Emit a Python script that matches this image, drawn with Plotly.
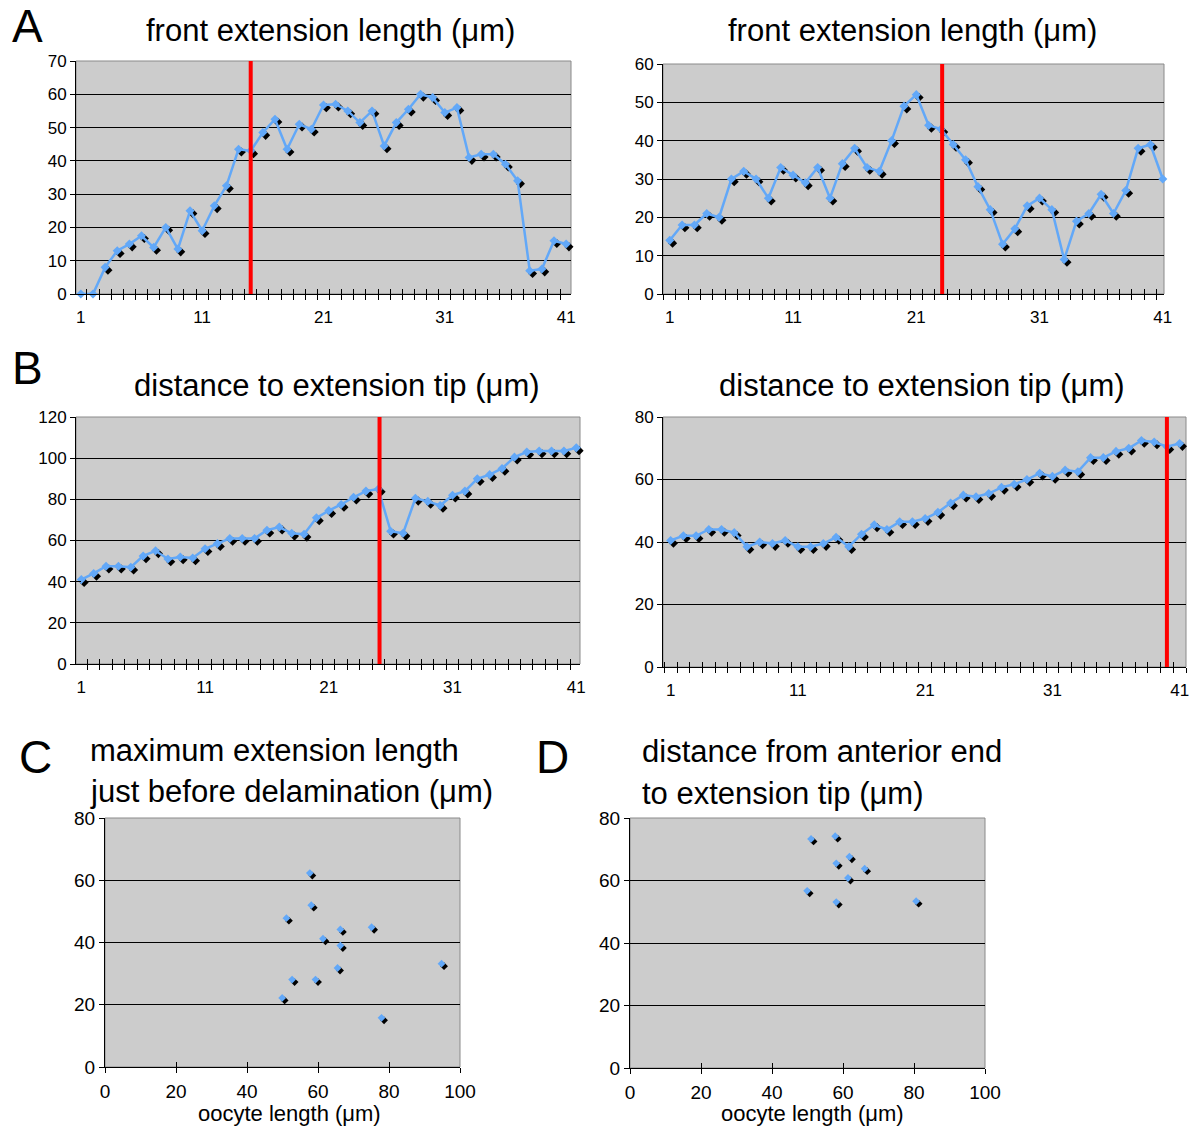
import plotly.graph_objects as go

W, H = 1189, 1127

# ---------------- data ----------------
frames = list(range(1, 42))
front_ext_1 = [0, 0, 8, 13, 15, 17.5, 14, 20, 13.5, 25, 19, 26.5, 32.5, 43.5, 43, 48.5, 52.5, 43.5, 51, 49.5,
               56.8, 57, 55, 51.5, 55, 44.5, 51.5, 55.5, 60, 59, 54.5, 56, 41, 42, 42, 39, 34, 7, 7.5, 16, 15]
front_ext_2 = [14, 18, 18, 21, 20, 30, 32, 30, 25, 33, 31, 29, 33, 25, 34, 38, 33, 32, 40, 49,
               52, 44, 43, 39, 35, 28, 22, 13, 17, 23, 25, 22, 9, 19, 21, 26, 21, 27, 38, 39, 30]
dist_tip_1 = [41, 44, 47.5, 47.5, 47, 52.5, 55, 51, 52, 51.5, 56, 58.5, 61, 61, 61, 65, 66.5, 63.5, 63, 71,
              74.5, 77.5, 81, 84, 85, 64.5, 63.5, 80.5, 79, 77, 82, 84, 90, 92, 95, 100.5, 103, 103.5, 103.5, 103.5, 105]
dist_tip_2 = [40.5, 42, 42, 44, 44, 43, 38.5, 40, 39.5, 40.5, 38.5, 38.5, 39.5, 41.5, 38.5, 42.5, 45.5, 44, 46.5, 46.5,
              47.5, 49.5, 52.5, 55, 54.5, 55.5, 57.5, 58.5, 60, 62, 61, 63, 62.5, 67, 67, 69, 70, 72.5, 72, 70.5, 71.5]
delamination_frame = [15, 23.1, 25.1, 40]
frame_ticks = [1, 11, 21, 31, 41]

oocyte_len_C = [57.7, 58.1, 51.1, 61.4, 66.3, 66.3, 75.1, 94.8, 65.5, 52.7, 59.3, 49.9, 77.9]
max_ext_C = [62.3, 52, 47.8, 41.2, 44.2, 39, 44.9, 33.2, 31.8, 28.1, 28.1, 22.2, 15.8]
oocyte_len_D = [51, 57.8, 61.8, 58.1, 66.1, 61.4, 49.9, 58.1, 80.6]
dist_ant_D = [73.3, 74.2, 67.6, 65.5, 63.8, 60.8, 56.7, 53.1, 53.4]

titles = ["front extension length (\u03bcm)", "front extension length (\u03bcm)",
          "distance to extension tip (\u03bcm)", "distance to extension tip (\u03bcm)"]

# ---------------- style ----------------
FONT = "Liberation Sans, Arial, sans-serif"
BLUE = "#62A8F8"
BG = "#CCCCCC"

panels = [
    dict(kind="line", y=front_ext_1, xpx=(76, 571), ypx=(61, 294), xr=(0.6, 41.4), yr=(0, 70), dy=10, red=delamination_frame[0]),
    dict(kind="line", y=front_ext_2, xpx=(663, 1164), ypx=(64, 294), xr=(0.45, 41.1), yr=(0, 60), dy=10, red=delamination_frame[1]),
    dict(kind="line", y=dist_tip_1, xpx=(76, 580), ypx=(417, 664), xr=(0.57, 41.3), yr=(0, 120), dy=20, red=delamination_frame[2]),
    dict(kind="line", y=dist_tip_2, xpx=(663, 1186), ypx=(417, 667), xr=(0.4, 41.5), yr=(0, 80), dy=20, red=delamination_frame[3]),
    dict(kind="scatter", x=oocyte_len_C, y=max_ext_C, xpx=(105, 460), ypx=(818, 1067), xr=(0, 100), yr=(0, 80), dy=20),
    dict(kind="scatter", x=oocyte_len_D, y=dist_ant_D, xpx=(630, 985), ypx=(818, 1068), xr=(0, 100), yr=(0, 80), dy=20),
]

fig = go.Figure()
layout = dict(width=W, height=H, margin=dict(l=0, r=0, t=0, b=0, pad=0, autoexpand=False), paper_bgcolor="white",
              plot_bgcolor=BG, showlegend=False, font=dict(family=FONT, color="black"))
shapes = []
annotations = []


def ax_key(letter, n):
    return f"{letter}axis" if n == 1 else f"{letter}axis{n}"


def ax_ref(letter, n):
    return letter if n == 1 else f"{letter}{n}"


for p, cfg in enumerate(panels):
    nb, ns, nv = 3 * p + 1, 3 * p + 2, 3 * p + 3  # base (inside ticks), shadow, visible
    x0, x1 = cfg["xpx"]
    top, bot = cfg["ypx"]
    xd = [x0 / W, x1 / W]
    yd = [1 - bot / H, 1 - top / H]
    a, b = cfg["xr"]
    c, d = cfg["yr"]
    sh = 2.8 if cfg["kind"] == "line" else 2.5
    sx = sh * (b - a) / (x1 - x0)
    sy = sh * (d - c) / (bot - top)
    tick_font = dict(size=17 if cfg["kind"] == "line" else 19, family=FONT, color="black")

    if cfg["kind"] == "line":
        xb_ticks = dict(tickmode="linear", tick0=0.5, dtick=1)
    else:
        xb_ticks = dict(tickmode="linear", tick0=0, dtick=20)

    common = dict(automargin=False)
    layout[ax_key("x", nb)] = dict(domain=xd, anchor=ax_ref("y", nb), range=[a, b], showgrid=False, zeroline=False,
                                   showline=False, showticklabels=False, ticks="inside", ticklen=5,
                                   tickcolor="black", tickwidth=1, **xb_ticks, **common)
    layout[ax_key("y", nb)] = dict(domain=yd, anchor=ax_ref("x", nb), range=[c, d], showgrid=False, zeroline=False,
                                   showline=False, showticklabels=False, ticks="inside", ticklen=5,
                                   tickcolor="black", tickwidth=1, tickmode="linear", tick0=0, dtick=cfg["dy"],
                                   **common)
    layout[ax_key("x", ns)] = dict(overlaying=ax_ref("x", nb), anchor=ax_ref("y", ns), range=[a - sx, b - sx],
                                   visible=False, **common)
    layout[ax_key("y", ns)] = dict(overlaying=ax_ref("y", nb), anchor=ax_ref("x", ns), range=[c + sy, d + sy],
                                   visible=False, **common)
    if cfg["kind"] == "line":
        xv = dict(tickmode="array", tickvals=frame_ticks, ticktext=[str(t) for t in frame_ticks], ticks="",
                  ticklabelstandoff=8,
                  minor=dict(tickmode="linear", tick0=0.5, dtick=1, ticks="outside", ticklen=5,
                             tickcolor="black", tickwidth=1))
    else:
        xv = dict(tickmode="linear", tick0=0, dtick=20, ticks="outside", ticklen=5, tickcolor="black", tickwidth=1,
                  ticklabelstandoff=2)
    layout[ax_key("x", nv)] = dict(overlaying=ax_ref("x", nb), anchor=ax_ref("y", nv), range=[a, b], showgrid=False,
                                   zeroline=False, showline=True, linecolor="black", linewidth=1,
                                   ticklabeloverflow="allow", tickfont=tick_font, **xv, **common)
    layout[ax_key("y", nv)] = dict(overlaying=ax_ref("y", nb), anchor=ax_ref("x", nv), range=[c, d], showgrid=True,
                                   gridcolor="black", gridwidth=1, zeroline=False, showline=True,
                                   linecolor="black", linewidth=1, ticks="outside", ticklen=5, tickcolor="black",
                                   tickwidth=1, tickmode="linear", tick0=0, dtick=cfg["dy"], tickfont=tick_font,
                                   ticklabeloverflow="allow", **common)

    shapes.append(dict(type="rect", xref=f"{ax_ref('x', nb)} domain", yref=f"{ax_ref('y', nb)} domain",
                       x0=0, x1=1, y0=0, y1=1, line=dict(color="#8a8a8a", width=1), layer="below"))

    xs = frames if cfg["kind"] == "line" else cfg["x"]
    ms = 7 if cfg["kind"] == "line" else 6
    fig.add_trace(go.Scatter(x=[], y=[], xaxis=ax_ref("x", nb), yaxis=ax_ref("y", nb), hoverinfo="skip"))
    fig.add_trace(go.Scatter(x=xs, y=cfg["y"], mode="markers", xaxis=ax_ref("x", ns), yaxis=ax_ref("y", ns),
                             cliponaxis=False,
                             marker=dict(symbol="diamond", size=ms, color="black", line=dict(width=0))))
    fig.add_trace(go.Scatter(x=xs, y=cfg["y"], mode="lines+markers" if cfg["kind"] == "line" else "markers",
                             xaxis=ax_ref("x", nv), yaxis=ax_ref("y", nv), cliponaxis=False,
                             line=dict(color=BLUE, width=2.5),
                             marker=dict(symbol="diamond", size=ms, color=BLUE, line=dict(width=0))))
    if cfg["kind"] == "line":
        shapes.append(dict(type="line", xref=ax_ref("x", nv), yref=f"{ax_ref('y', nv)} domain",
                           x0=cfg["red"], x1=cfg["red"], y0=0, y1=1, line=dict(color="#FF0000", width=4),
                           layer="above"))

title_pos = [(330, 30), (912, 30), (337, 386), (922, 386)]
for t, (tx, ty) in zip(titles, title_pos):
    annotations.append(dict(text=t, x=tx / W, y=1 - ty / H, xref="paper", yref="paper", showarrow=False,
                            xanchor="center", yanchor="middle", font=dict(size=31, family=FONT)))
multi_titles = [("maximum extension length", 88, 750), ("just before delamination (\u03bcm)", 88, 791),
                ("distance from anterior end", 640, 751), ("to extension tip (\u03bcm)", 640, 793)]
for t, tx, ty in multi_titles:
    annotations.append(dict(text=t, x=tx / W, y=1 - ty / H, xref="paper", yref="paper", showarrow=False,
                            xanchor="left", yanchor="middle", font=dict(size=31, family=FONT)))
for t, tx, ty in [("A", 27, 26), ("B", 27, 368), ("C", 35, 757), ("D", 552, 757)]:
    annotations.append(dict(text=t, x=tx / W, y=1 - ty / H, xref="paper", yref="paper", showarrow=False,
                            xanchor="center", yanchor="middle", font=dict(size=46, family=FONT)))
for tx in [289, 812]:
    annotations.append(dict(text="oocyte length (\u03bcm)", x=tx / W, y=1 - 1113 / H, xref="paper", yref="paper",
                            showarrow=False, xanchor="center", yanchor="middle", font=dict(size=22, family=FONT)))

layout["shapes"] = shapes
layout["annotations"] = annotations
fig.update_layout(**layout)
fig.write_html("out.html", config={"displayModeBar": False},
               post_script="document.body.style.margin='0px';document.body.style.overflow='hidden';")
